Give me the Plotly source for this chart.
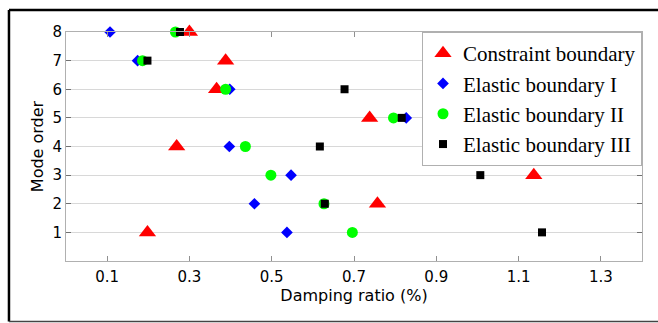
import plotly.graph_objects as go

# Damping ratio (%) of each mode under the four boundary conditions
modes = [1, 2, 3, 4, 5, 6, 7, 8]
constraint = [0.198, 0.757, 1.137, 0.269, 0.738, 0.366, 0.388, 0.300]
elastic_1 = [0.537, 0.458, 0.547, 0.397, 0.827, 0.398, 0.174, 0.107]
elastic_2 = [0.696, 0.627, 0.498, 0.436, 0.796, 0.388, 0.186, 0.266]
elastic_3 = [1.157, 0.629, 1.007, 0.617, 0.816, 0.677, 0.198, 0.277]

x_ticks = [0.1, 0.3, 0.5, 0.7, 0.9, 1.1, 1.3]
y_ticks = [1, 2, 3, 4, 5, 6, 7, 8]

series = [
    ("Constraint boundary", constraint, "triangle-up", "#ff0000", 15),
    ("Elastic boundary I", elastic_1, "diamond", "#0000ff", 9),
    ("Elastic boundary II", elastic_2, "circle", "#00ff00", 11),
    ("Elastic boundary III", elastic_3, "square", "#000000", 8),
]

fig = go.Figure()
for name, vals, sym, col, size in series:
    fig.add_trace(go.Scatter(
        x=vals, y=modes, mode="markers", name=name, cliponaxis=False,
        marker=dict(symbol=sym, color=col, size=size, line=dict(width=0)),
    ))

axis_font = dict(family="DejaVu Sans", size=15, color="black")

fig.update_xaxes(
    range=[0, 1.4], tickvals=x_ticks, ticktext=[f"{v:g}" for v in x_ticks],
    showgrid=False, zeroline=False,
    showline=True, linecolor="#b0b0b0", linewidth=1, mirror="ticks",
    ticks="inside", ticklen=5, tickcolor="#909090", tickwidth=1,
    tickfont=axis_font, ticklabelstandoff=2,
    title=dict(text="Damping ratio (%)", font=dict(family="DejaVu Sans", size=16, color="black"), standoff=2),
)
fig.update_yaxes(
    range=[0, 8], tickvals=y_ticks,
    showgrid=True, gridcolor="#d8d8d8", gridwidth=1, zeroline=False,
    showline=True, linecolor="#b0b0b0", linewidth=1, mirror="ticks",
    ticks="inside", ticklen=5, tickcolor="#707070", tickwidth=1,
    tickfont=axis_font,
    title=dict(text="Mode order", font=dict(family="DejaVu Sans", size=16, color="black"), standoff=4),
)

# Outer figure frame
frame = [
    dict(x0=-0.099, x1=-0.099, y0=-0.264, y1=1.096, color="black", width=2.5),
    dict(x0=-0.099, x1=1.05, y0=1.096, y1=1.096, color="black", width=2.5),
    dict(x0=-0.099, x1=1.05, y0=-0.264, y1=-0.264, color="#444444", width=1.5),
]
for f in frame:
    fig.add_shape(type="line", xref="paper", yref="paper",
                  x0=f["x0"], x1=f["x1"], y0=f["y0"], y1=f["y1"],
                  line=dict(color=f["color"], width=f["width"]))

fig.update_layout(
    width=658, height=323,
    margin=dict(l=66, r=16, t=32, b=62),
    paper_bgcolor="white", plot_bgcolor="white",
    showlegend=True,
    legend=dict(
        x=1, xanchor="right", y=1, yanchor="top",
        bgcolor="white", bordercolor="#b0b0b0", borderwidth=1,
        font=dict(family="Liberation Serif", size=21, color="black"),
        itemwidth=30, tracegroupgap=0,
    ),
)

fig.write_html("out.html")
